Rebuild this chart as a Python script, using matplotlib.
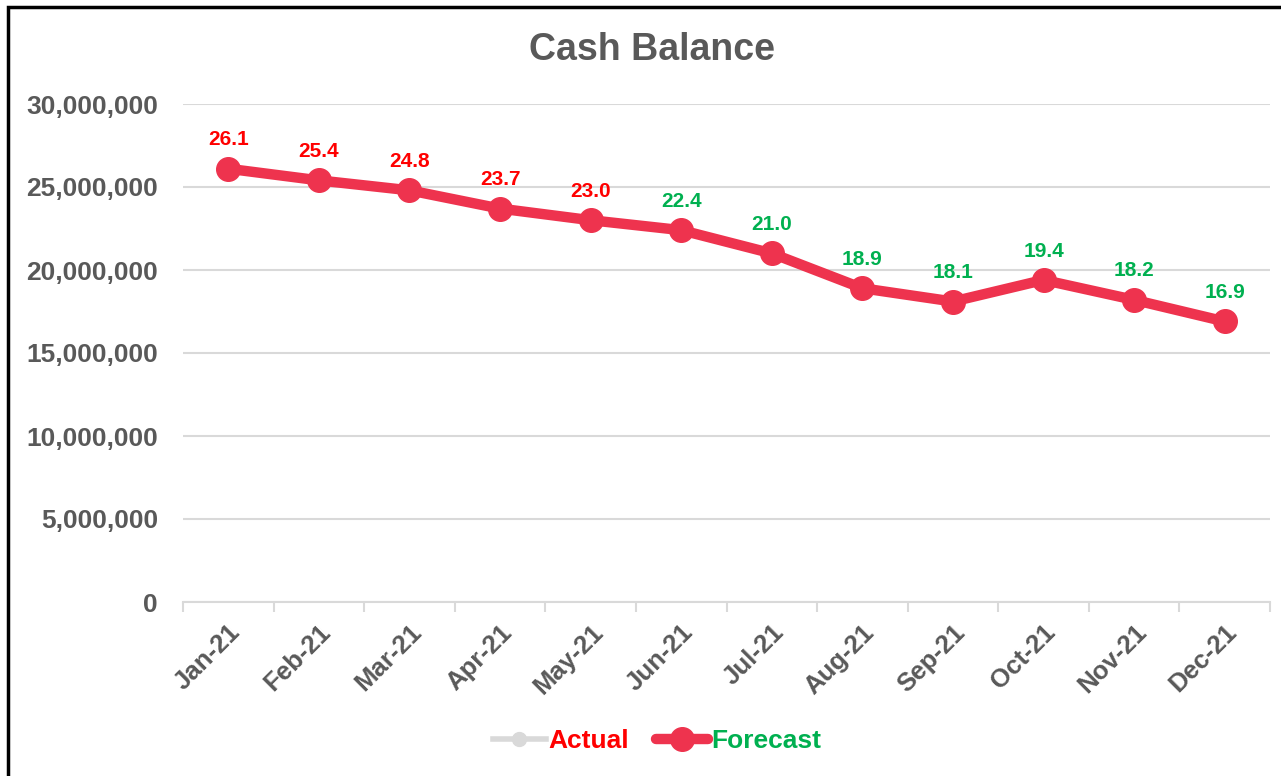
import numpy as np
import matplotlib
matplotlib.use('Agg')
import matplotlib.pyplot as plt
from matplotlib.patches import Rectangle
from matplotlib.ticker import FuncFormatter, FixedLocator

# Monthly cash balance (forecast), in units
months = ['Jan-21', 'Feb-21', 'Mar-21', 'Apr-21', 'May-21', 'Jun-21',
          'Jul-21', 'Aug-21', 'Sep-21', 'Oct-21', 'Nov-21', 'Dec-21']
forecast = [26.1e6, 25.4e6, 24.8e6, 23.7e6, 23.0e6, 22.4e6,
            21.0e6, 18.9e6, 18.1e6, 19.4e6, 18.2e6, 16.9e6]
actual = []  # nothing recorded yet
# data labels for the first few months are shown in red, the rest green
red_label_months = 5
y_ticks = [0, 5e6, 10e6, 15e6, 20e6, 25e6, 30e6]

plt.rcParams['font.family'] = ['Liberation Sans', 'DejaVu Sans']
plt.rcParams['font.weight'] = 'bold'

GRAY = '#595959'
LINE = '#EE334E'
RED = '#FF0000'
GREEN = '#00B050'

fig = plt.figure(figsize=(12.81, 7.76), dpi=100)
ax = fig.add_axes([183 / 1281, 1 - 602 / 776, 1087 / 1281, 498 / 776])

x = np.arange(len(months))
ax.plot(x[:len(actual)], actual, color='#D9D9D9', lw=4, marker='o',
        ms=10, label='Actual')
ax.plot(x, forecast, color=LINE, lw=7.5, marker='o', ms=17,
        solid_capstyle='round', label='Forecast')

for i, v in enumerate(forecast):
    col = RED if i < red_label_months else GREEN
    ax.annotate(f'{v / 1e6:.1f}', (x[i], v), xytext=(0, 14),
                textcoords='offset points', ha='center', va='bottom',
                color=col, fontsize=15, fontweight='bold')

ax.set_xlim(-0.5, len(months) - 0.5)
ax.set_ylim(0, 30e6)
ax.yaxis.set_major_locator(FixedLocator(y_ticks))
ax.yaxis.set_major_formatter(FuncFormatter(lambda v, p: f'{int(v):,}'))
ax.grid(axis='y', color='#D9D9D9', lw=1.5)
ax.set_axisbelow(True)

for s in ['top', 'right', 'left']:
    ax.spines[s].set_visible(False)
ax.spines['bottom'].set_color('#D9D9D9')
ax.spines['bottom'].set_linewidth(1.5)

ax.set_xticks(x)
ax.set_xticklabels(months, rotation=45, ha='right', rotation_mode='anchor')
ax.set_xticks(np.arange(-0.5, len(months)), minor=True)
ax.tick_params(axis='x', which='major', length=0, pad=13,
               labelsize=18.5, labelcolor=GRAY)
ax.tick_params(axis='x', which='minor', length=7, width=1.5,
               color='#D9D9D9')
ax.tick_params(axis='y', length=0, pad=18, labelsize=19, labelcolor=GRAY)

fig.text(652 / 1281, 1 - 50 / 776, 'Cash Balance', ha='center',
         va='center', fontsize=27, fontweight='bold', color=GRAY)

leg = fig.legend(loc='center', bbox_to_anchor=(657 / 1281, 1 - 741 / 776),
                 ncol=2, frameon=False, fontsize=19, handlelength=2.0,
                 handletextpad=0.1, columnspacing=1.0)
for txt, col in zip(leg.get_texts(), [RED, GREEN]):
    txt.set_color(col)

fig.patches.append(Rectangle((8 / 1281, -0.1), 1.2, 1 - 7 / 776 + 0.1,
                             transform=fig.transFigure, fill=False,
                             edgecolor='black', lw=2.5))

fig.savefig('out.png', dpi=100)
